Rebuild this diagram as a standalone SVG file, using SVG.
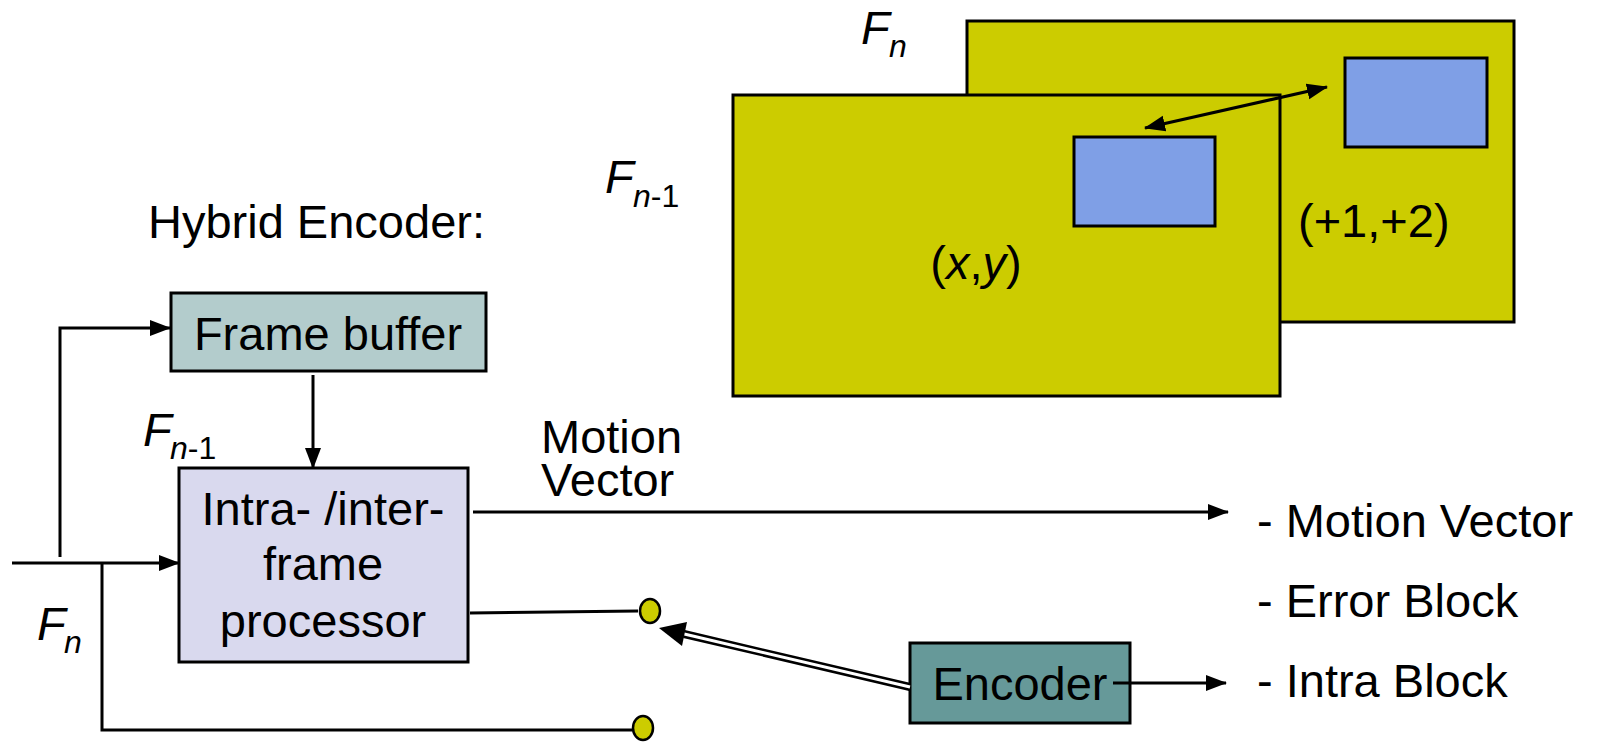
<svg xmlns="http://www.w3.org/2000/svg" width="1597" height="742" viewBox="0 0 1597 742">
<defs>
<style>
text{font-family:"Liberation Sans",Arial,sans-serif;fill:#000;font-size:47px}
.it{font-style:italic}
.sub{font-size:32px}
.frame{fill:#CCCC00;stroke:#000;stroke-width:3}
.blk{fill:#7F9FE6;stroke:#000;stroke-width:3}
.box{stroke:#000;stroke-width:3}
.ln{fill:none;stroke:#000;stroke-width:3}
.dot{fill:#CCCC00;stroke:#000;stroke-width:2.5}
</style>
<marker id="ah" markerUnits="userSpaceOnUse" markerWidth="22" markerHeight="18" refX="20" refY="8" orient="auto-start-reverse">
<path d="M0,0 L21,8 L0,16 Z" fill="#000"/>
</marker>
</defs>
<rect width="1597" height="742" fill="#fff"/>

<g id="frame-n">
<rect class="frame" x="967" y="21" width="547" height="301"/>
<rect class="blk" x="1345" y="58" width="142" height="89"/>
<text x="1298" y="237">(+1,+2)</text>
<text x="861" y="44" class="it">F<tspan class="sub" x="889" y="57">n</tspan></text>
</g>

<g id="frame-n-1">
<rect class="frame" x="733" y="95" width="547" height="301"/>
<rect class="blk" x="1074" y="137" width="141" height="89"/>
<text x="976" y="279" text-anchor="middle">(<tspan class="it">x</tspan>,<tspan class="it">y</tspan>)</text>
<text x="605" y="193" class="it">F<tspan class="sub" x="633" y="207">n</tspan><tspan class="sub" font-style="normal">-1</tspan></text>
</g>

<g id="title">
<text x="148" y="238">Hybrid Encoder:</text>
</g>

<g id="frame-buffer">
<rect class="box" x="171" y="293" width="315" height="78" fill="#B3CCCC"/>
<text x="328" y="350" text-anchor="middle">Frame buffer</text>
</g>

<g id="processor">
<rect class="box" x="179" y="468" width="289" height="194" fill="#D9D9EE"/>
<text x="323" y="525" text-anchor="middle">Intra- /inter-</text>
<text x="323" y="580" text-anchor="middle">frame</text>
<text x="323" y="637" text-anchor="middle">processor</text>
</g>

<g id="encoder">
<rect class="box" x="910" y="643" width="220" height="80" fill="#669999"/>
<text x="1020" y="700" text-anchor="middle">Encoder</text>
</g>

<g id="labels">
<text x="143" y="446" class="it">F<tspan class="sub" x="170" y="459">n</tspan><tspan class="sub" font-style="normal">-1</tspan></text>
<text x="37" y="640" class="it">F<tspan class="sub" x="64" y="653">n</tspan></text>
<text x="541" y="453">Motion</text>
<text x="541" y="496">Vector</text>
<text x="1257" y="537">- Motion Vector</text>
<text x="1257" y="617">- Error Block</text>
<text x="1257" y="697">- Intra Block</text>
</g>

<g id="switch">
<ellipse class="dot" cx="650" cy="611" rx="10" ry="12"/>
<ellipse class="dot" cx="643" cy="728" rx="10" ry="12"/>
</g>

<g id="connectors">
<line class="ln" x1="1145" y1="128" x2="1327" y2="87" marker-start="url(#ah)" marker-end="url(#ah)"/>
<line class="ln" x1="12" y1="563" x2="179" y2="563" marker-end="url(#ah)"/>
<path class="ln" d="M60,557 V328 H170" marker-end="url(#ah)"/>
<line class="ln" x1="313" y1="375" x2="313" y2="468" marker-end="url(#ah)"/>
<path class="ln" d="M102,563 V730 H632"/>
<line class="ln" x1="470" y1="613" x2="638" y2="611"/>
<line class="ln" x1="473" y1="512" x2="1228" y2="512" marker-end="url(#ah)"/>
<line class="ln" x1="1113" y1="683" x2="1226" y2="683" marker-end="url(#ah)"/>
<line x1="910" y1="687" x2="684" y2="634" stroke="#000" stroke-width="8"/>
<line x1="910" y1="687" x2="680" y2="633" stroke="#fff" stroke-width="3"/>
<polygon points="659,628 687,622 682,646" fill="#000"/>
</g>
</svg>
